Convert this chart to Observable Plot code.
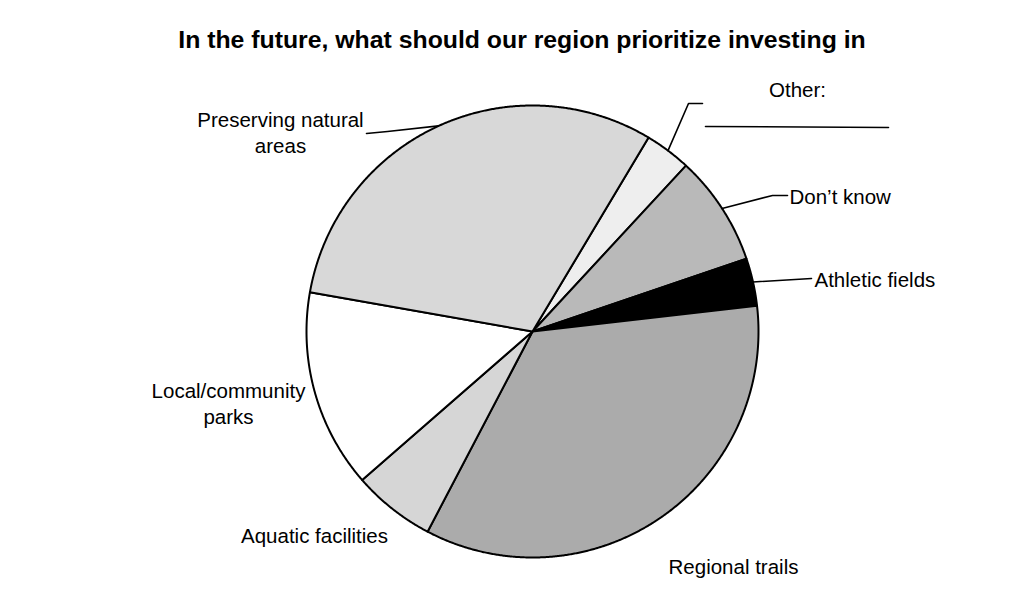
<!DOCTYPE html>
<html>
<head>
<meta charset="utf-8">
<script src="https://cdn.jsdelivr.net/npm/d3@7"></script>
<script src="https://cdn.jsdelivr.net/npm/@observablehq/plot@0.6"></script>
<style>
  body { margin: 0; background: #fff; }
  #title {
    height: 66px; box-sizing: border-box; padding-top: 26px; padding-left: 25px;
    font: bold 24.8px "Liberation Sans", Arial, sans-serif; line-height: 28px;
    text-align: center; color: #000; width: 1019px; white-space: nowrap;
  }
  #chart svg { display: block; }
</style>
</head>
<body>
<div id="title">In the future, what should our region prioritize investing in</div>
<div id="chart"></div>
<script>
// ---- data (clockwise from the "Other" slice) ----
const categories = ["Other", "Don't know", "Athletic fields", "Regional trails",
                    "Aquatic facilities", "Local/community parks", "Preserving natural areas"];
const shares = [3.3, 7.9, 3.4, 34.5, 5.9, 14.2, 30.8];
const labelTexts = ["Other:", "Don’t know", "Athletic fields", "Regional trails",
                    "Aquatic facilities", "Local/community\nparks", "Preserving natural\nareas"];
const startDegrees = 30.9;

// ---- styles / layout ----
const fills = ["#eeeeee", "#b9b9b9", "#000000", "#ababab", "#d6d6d6", "#ffffff", "#d8d8d8"];
const W = 1019, TITLE_H = 66, H = 600 - TITLE_H;
const CX = 532, CY = 331 - TITLE_H, R = 226;
const toX = px => (px - CX) / R;
const toY = py => (CY - (py - TITLE_H)) / R;
const labelLayout = {
  "Other": {x: 797, y: 88, anchor: "middle", path: [[688, 103], [702, 103]]},
  "Don't know": {x: 789, y: 195, anchor: "start", path: [[772, 195], [787, 195]]},
  "Athletic fields": {x: 814, y: 278, anchor: "start", path: [[811, 278]]},
  "Regional trails": {x: 733, y: 565, anchor: "middle"},
  "Aquatic facilities": {x: 314, y: 534, anchor: "middle"},
  "Local/community parks": {x: 228, y: 402, anchor: "middle"},
  "Preserving natural areas": {x: 280, y: 131, anchor: "middle", path: [[387, 131], [366, 133]]}
};
const otherUnderline = [[705, 126], [888, 127]];

// ---- geometry from data ----
const a0 = startDegrees * Math.PI / 180;
const arcs = d3.pie().sort(null).startAngle(a0).endAngle(a0 + 2 * Math.PI)(shares);

const polys = [];
arcs.forEach((arc, i) => {
  const cat = categories[i];
  polys.push({cat, x: 0, y: 0});
  const n = Math.max(4, Math.ceil((arc.endAngle - arc.startAngle) / 0.005));
  for (let k = 0; k <= n; k++) {
    const a = arc.startAngle + (arc.endAngle - arc.startAngle) * k / n;
    polys.push({cat, x: Math.sin(a), y: Math.cos(a)});
  }
  polys.push({cat, x: 0, y: 0});
});

const leaders = [];
const texts = [];
arcs.forEach((arc, i) => {
  const cat = categories[i];
  const L = labelLayout[cat];
  const mid = (arc.startAngle + arc.endAngle) / 2;
  texts.push({cat, text: labelTexts[i], x: toX(L.x), y: toY(L.y), anchor: L.anchor});
  if (L.path) {
    leaders.push({cat, x: Math.sin(mid), y: Math.cos(mid)});
    L.path.forEach(([px, py]) => leaders.push({cat, x: toX(px), y: toY(py)}));
  }
});
otherUnderline.forEach(([px, py]) => leaders.push({cat: "underline", x: toX(px), y: toY(py)}));

const font = '"Liberation Sans", Arial, sans-serif';
const textMark = anchor => Plot.text(texts.filter(d => d.anchor === anchor), {
  x: "x", y: "y", text: "text", textAnchor: anchor, lineAnchor: "middle",
  fontSize: 20.5, lineHeight: 1.25, fill: "#000", fontFamily: font
});

const chart = Plot.plot({
  width: W, height: H,
  x: {domain: [-1, 1], range: [CX - R, CX + R], axis: null},
  y: {domain: [-1, 1], range: [CY + R, CY - R], axis: null},
  color: {domain: categories, range: fills},
  style: {fontFamily: font, background: "#fff"},
  marks: [
    Plot.line(polys, {x: "x", y: "y", z: "cat", fill: "cat", stroke: "#000",
                      strokeWidth: 2, strokeLinejoin: "round", curve: "linear"}),
    Plot.line(leaders, {x: "x", y: "y", z: "cat", stroke: "#000", strokeWidth: 1.6}),
    textMark("middle"),
    textMark("start")
  ]
});
document.getElementById("chart").appendChild(chart);
</script>
</body>
</html>
